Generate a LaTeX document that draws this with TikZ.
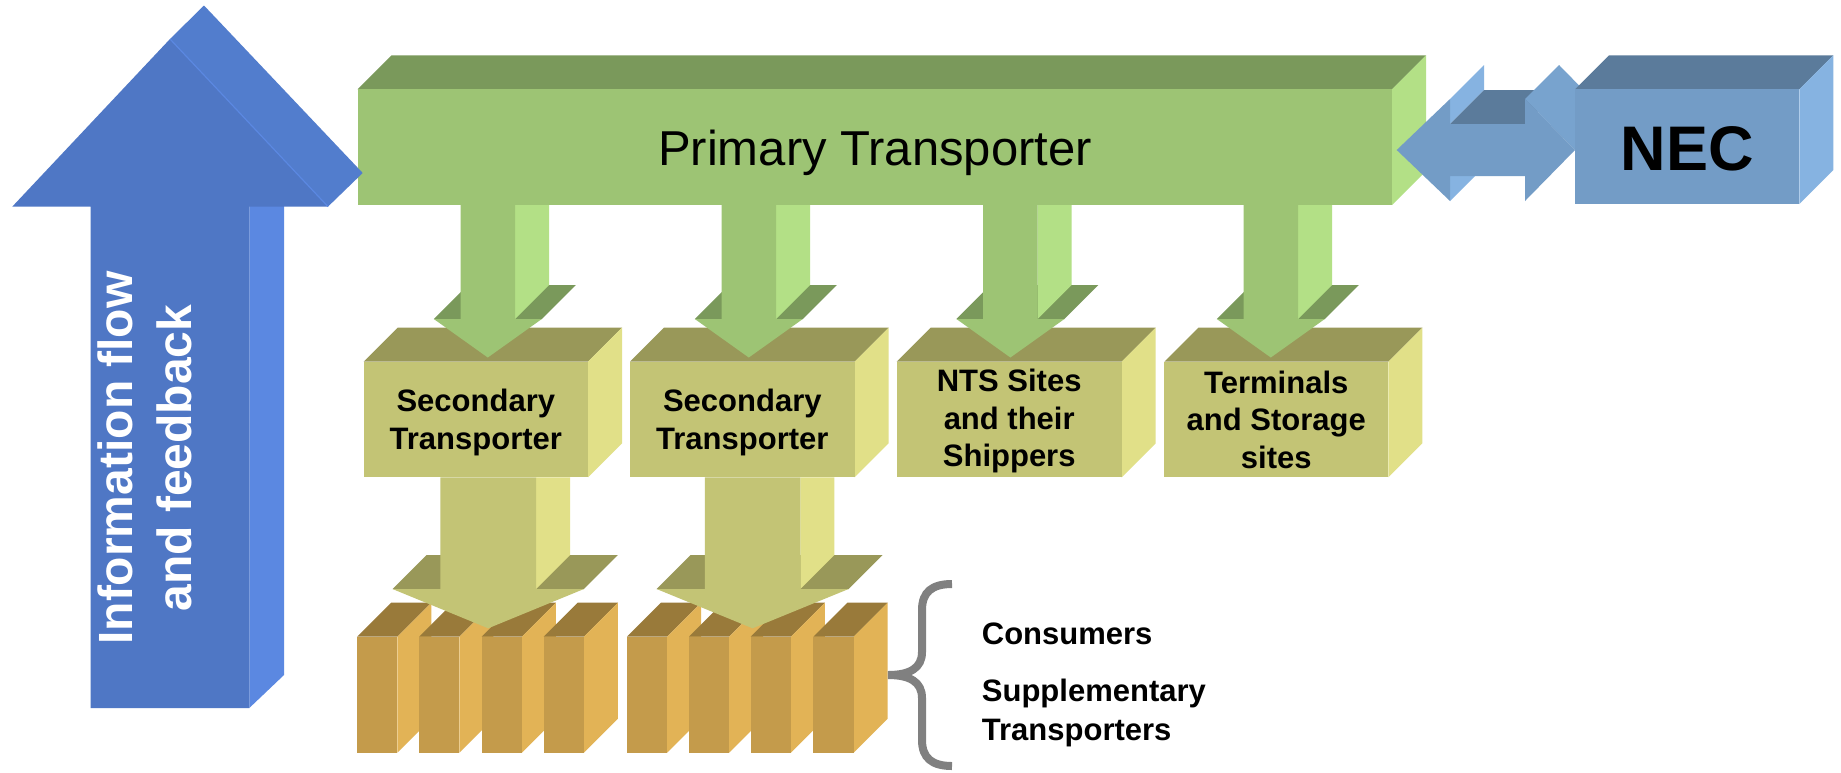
\documentclass[tikz,border=0pt]{standalone}
\usepackage{fontspec}
\setmainfont{Liberation Sans}
\definecolor{grnF}{HTML}{9DC474}\definecolor{grnT}{HTML}{7A995B}\definecolor{grnS}{HTML}{B3E086}
\definecolor{olvF}{HTML}{C3C475}\definecolor{olvT}{HTML}{999859}\definecolor{olvS}{HTML}{E1E088}
\definecolor{orgF}{HTML}{C49B4B}\definecolor{orgT}{HTML}{997A3A}\definecolor{orgS}{HTML}{E2B356}
\definecolor{bluF}{HTML}{4F77C5}\definecolor{bluT}{HTML}{527DCD}\definecolor{bluS}{HTML}{5B88E1}
\definecolor{necF}{HTML}{739CC6}\definecolor{necT}{HTML}{5B7B9B}\definecolor{necS}{HTML}{86B3E1}\definecolor{necH}{HTML}{78A3CE}
\definecolor{braceC}{HTML}{808080}
% 3D slab: x1, y1 (top), x2, y2 (bottom), colour prefix
\newcommand\slab[5]{%
  \fill[#5T] (#1,#2) -- ({#1+34},{#2-34}) -- ({#3+34},{#2-34}) -- (#3,#2) -- cycle;
  \fill[#5S] (#3,#2) -- ({#3+34},{#2-34}) -- ({#3+34},{#4-34}) -- (#3,#4) -- cycle;
  \fill[#5F] (#1,#2) rectangle (#3,#4);}
% 3D down arrow: cx, shaft top, head base, tip, half shaft, half head, colour prefix
\newcommand\dnarrow[7]{%
  \fill[#7T] ({#1-#6},#3) -- ({#1-#6+34},{#3-34}) -- ({#1+#6+34},{#3-34}) -- ({#1+#6},#3) -- cycle;
  \fill[#7S] ({#1+#5},#2) -- ({#1+#5+34},#2) -- ({#1+#5+34},{#3-34}) -- ({#1+#5},#3) -- cycle;
  \fill[#7F] ({#1-#5},#2) -- ({#1+#5},#2) -- ({#1+#5},#3) -- ({#1+#6},#3) -- (#1,#4)
     -- ({#1-#6},#3) -- ({#1-#5},#3) -- cycle;}
\tikzset{
  boxtxt/.style={font=\bfseries\fontsize{31}{37.5}\selectfont, align=center, inner sep=0pt, text=black},
  sidetxt/.style={font=\bfseries\fontsize{31}{37.5}\selectfont, anchor=base west, inner sep=0pt, text=black},
}
\begin{document}
\begin{tikzpicture}[x=1pt,y=-1pt]
\useasboundingbox (0,0) rectangle (1841,772);
\fill[white] (0,0) rectangle (1841,772);

% primary transporter bar
\slab{357.5}{89.3}{1392}{205}{grn}

% double arrow to NEC
\fill[necS] (1450,99) -- (1484,65) -- (1484,90) -- (1450,124) -- cycle;
\fill[necS] (1450,176) -- (1484,142) -- (1484,167) -- (1450,201) -- cycle;
\fill[necT] (1450,124) -- (1484,90) -- (1559,90) -- (1525,124) -- cycle;
\fill[necH] (1525,99) -- (1559,65) -- (1609,116) -- (1575,150) -- cycle;
\fill[necF] (1396.7,150) -- (1450,99) -- (1450,124) -- (1525,124) -- (1525,99) -- (1575,150)
   -- (1525,201) -- (1525,176) -- (1450,176) -- (1450,201) -- cycle;
% NEC box
\slab{1575}{89.3}{1799.3}{204}{nec}

% information arrow
\fill[bluS] (249.3,206.6) -- (284,173) -- (284,675) -- (249.3,708) -- cycle;
\fill[bluT] (170,39) -- (204,5.5) -- (362.7,173) -- (328,206.6) -- cycle;
\fill[bluF] (12.3,206.6) -- (170,39) -- (328,206.6) -- (249.3,206.6) -- (249.3,708)
   -- (90.7,708) -- (90.7,206.6) -- cycle;
\draw[bluS, line width=1.2pt] (170,39) -- (328,206.6);

% secondary level boxes
\slab{363.6}{361.7}{588}{477.3}{olv}
\slab{630}{361.7}{854.6}{477.3}{olv}
\slab{896.7}{361.7}{1121.7}{477.3}{olv}
\slab{1164.3}{361.7}{1388.3}{477.3}{olv}

% green arrows
\dnarrow{487.8}{205}{319}{357.5}{27.2}{54}{grn}
\dnarrow{748.8}{205}{319}{357.5}{27.2}{54}{grn}
\dnarrow{1010.4}{205}{319}{357.5}{27.2}{54}{grn}
\dnarrow{1270.8}{205}{319}{357.5}{27.2}{54}{grn}

% consumer blocks
\foreach \bx in {357.2,419.2,481.6,543.6,627,689,750.6,813.4}{
  \slab{\bx}{636.7}{\bx+40.2}{752.7}{org}
}

% olive arrows
\dnarrow{488.2}{477.3}{589}{628.3}{47.8}{95.7}{olv}
\dnarrow{752.6}{477.3}{589}{628.3}{47.8}{96}{olv}

% brace
\draw[braceC, line width=8pt]
  (952,584) .. controls (932,584) and (922,592) .. (922,610) -- (922,652)
  .. controls (922,668) and (910,675) .. (888,675)
  .. controls (910,675) and (922,682) .. (922,698) -- (922,740)
  .. controls (922,758) and (932,766) .. (952,766);

% texts
\node[font=\fontsize{49}{59}\selectfont, anchor=base, inner sep=0pt] (prim) at (875,165) {Primary Transporter};
\node[font=\bfseries\fontsize{63}{70}\selectfont, anchor=base, inner sep=0pt] (nec) at (1687,170.7) {NEC};
\node[rotate=90, text=white, font=\bfseries\fontsize{48}{59}\selectfont, align=center, inner sep=0pt] (info) at (145.3,458) {Information flow\\and feedback};
\node[boxtxt] (sec1) at (475.8,422.4) {Secondary\\Transporter};
\node[boxtxt] (sec2) at (742.3,422.4) {Secondary\\Transporter};
\node[boxtxt] (nts) at (1009.2,421.2) {NTS Sites\\and their\\Shippers};
\node[boxtxt] (term) at (1276.3,419.7) {Terminals\\and Storage\\sites};
\node[sidetxt] (cons) at (981.7,644) {Consumers};
\node[sidetxt] (supp) at (981.7,701.7) {Supplementary};
\node[sidetxt] (trans) at (981.7,740) {Transporters};
\end{tikzpicture}
\end{document}
